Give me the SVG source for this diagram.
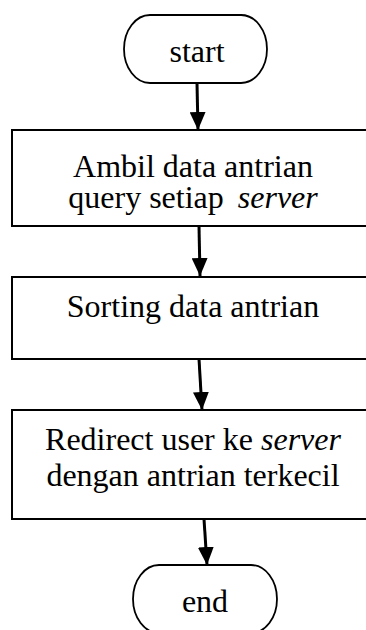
<svg xmlns="http://www.w3.org/2000/svg" width="366" height="630" viewBox="0 0 366 630">
  <defs>
    <marker id="arrow" viewBox="0 0 18 16" markerWidth="18" markerHeight="16" refX="18" refY="8" orient="auto" markerUnits="userSpaceOnUse">
      <path d="M0,0 L18,8 L0,16 Z" fill="#000"/>
    </marker>
    <style>
      .box { fill: #fff; stroke: #000; stroke-width: 2; }
      .term { fill: #fff; stroke: #000; stroke-width: 1.8; }
      .label { font-family: "Liberation Serif", "Times New Roman", serif; font-size: 32px; fill: #000; text-anchor: middle; }
      .it { font-family: "Liberation Serif", serif; font-style: italic; }
      .flow { stroke: #000; stroke-width: 3; fill: none; marker-end: url(#arrow); }
    </style>
  </defs>
  <rect width="366" height="630" fill="#fff"/>

  <g id="start">
    <rect class="term" x="124" y="15" width="143" height="68" rx="26" ry="34"/>
    <text class="label" x="197" y="62">start</text>
  </g>

  <g id="ambil-data">
    <rect class="box" x="12" y="130" width="362" height="96"/>
    <text class="label" x="193" y="177">Ambil data antrian</text>
    <text class="label" x="193" y="208">query setiap <tspan class="it" dx="6">server</tspan></text>
  </g>

  <g id="sorting">
    <rect class="box" x="12" y="277" width="362" height="82"/>
    <text class="label" x="193" y="317">Sorting data antrian</text>
  </g>

  <g id="redirect">
    <rect class="box" x="12" y="410" width="362" height="109"/>
    <text class="label" x="193" y="450">Redirect user ke <tspan class="it">server</tspan></text>
    <text class="label" x="193" y="486">dengan antrian terkecil</text>
  </g>

  <g id="end">
    <rect class="term" x="133" y="565" width="144" height="68" rx="26" ry="34"/>
    <text class="label" x="205" y="612">end</text>
  </g>

  <g id="connectors">
    <line class="flow" x1="197" y1="83" x2="198" y2="130"/>
    <line class="flow" x1="199" y1="226" x2="200" y2="276"/>
    <line class="flow" x1="199" y1="359" x2="202" y2="410"/>
    <line class="flow" x1="204" y1="519" x2="207" y2="565"/>
  </g>
</svg>
